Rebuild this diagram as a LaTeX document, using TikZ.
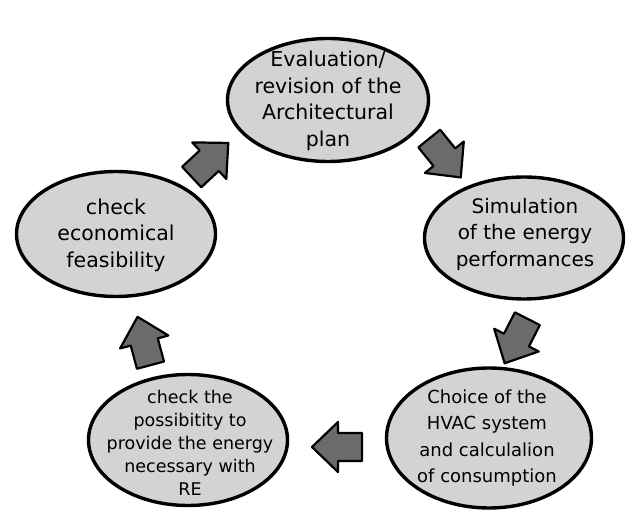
\documentclass[tikz,border=0pt]{standalone}
\usepackage{fontspec}
\setmainfont{DejaVu Sans}
\usetikzlibrary{shapes.geometric}
\definecolor{bubblegray}{HTML}{D3D3D3}
\definecolor{arrowgray}{HTML}{6B6B6B}
\begin{document}
\begin{tikzpicture}[x=1pt,y=-1pt,
  bubble/.style={ellipse, draw=black, line width=3.4pt, fill=bubblegray, inner sep=0pt},
  btext/.style={align=center, inner sep=0pt, font=\fontsize{#1}{26.5}\selectfont},
  smalltext/.style={align=center, inner sep=0pt, font=\fontsize{17.5}{23}\selectfont},
  blockarrow/.style={draw=black, line width=2.2pt, fill=arrowgray, line join=round},
  barrow/.pic={\draw[blockarrow] (-25,-14) -- (-1,-14) -- (-1,-25) -- (25,0) -- (-1,25) -- (-1,14) -- (-25,14) -- cycle;}]
\useasboundingbox (0,0) rectangle (629,510);
\fill[white] (0,0) rectangle (629,510);

% bubbles
\node[bubble, minimum width=201pt, minimum height=123pt] (plan) at (328,100) {};
\node[bubble, minimum width=199pt, minimum height=122pt] (sim)  at (524,238) {};
\node[bubble, minimum width=205pt, minimum height=140pt] (hvac) at (489,438) {};
\node[bubble, minimum width=199pt, minimum height=131pt] (re)   at (188,440) {};
\node[bubble, minimum width=199pt, minimum height=125pt] (econ) at (116,234) {};

% texts
\node[btext=20.5] (planT) at (328,101) {Evaluation/\\revision of the\\Architectural\\plan};
\node[btext=20]   (simT)  at (525,234) {Simulation\\of the energy\\performances};
\node[btext=18]   (hvacT) at (487,438) {Choice of the\\HVAC system\\and calculalion\\of consumption};
\node[smalltext]  (reT)   at (190,443) {check the\\possibitity to\\provide the energy\\necessary with\\RE};
\node[btext=20.5] (econT) at (116,235) {check\\economical\\feasibility};

% block arrows
\pic[rotate=43]   (a1) at (210,160) {barrow};
\pic[rotate=-51]  (a2) at (445,158) {barrow};
\pic[rotate=-117] (a3) at (516,341) {barrow};
\pic[rotate=180]  (a4) at (337,447) {barrow};
\pic[rotate=105]  (a5) at (144,341) {barrow};
\end{tikzpicture}
\end{document}
